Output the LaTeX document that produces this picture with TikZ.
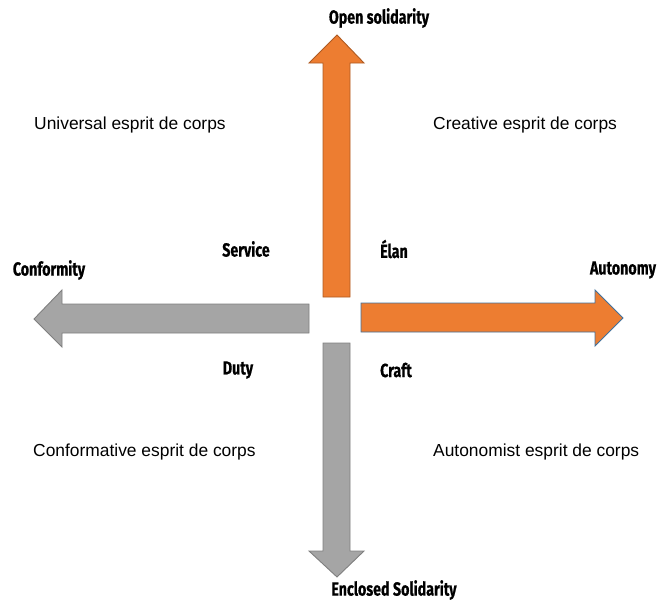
\documentclass[tikz,border=0pt]{standalone}
\usepackage{fontspec}
\setmainfont{Liberation Sans}
\newfontfamily\labelfont{Fira Sans}[FakeStretch=0.75,FakeBold=0.6]
\definecolor{orangefill}{HTML}{ED7D31}
\definecolor{orangeline}{HTML}{AE5A21}
\definecolor{blueline}{HTML}{41719C}
\definecolor{grayfill}{HTML}{A5A5A5}
\definecolor{grayline}{HTML}{7F7F7F}
\tikzset{
  orangearrow/.style={fill=orangefill, draw=orangeline, line width=0.9pt, line join=miter},
  orangearrowb/.style={fill=orangefill, draw=blueline, line width=0.9pt, line join=miter},
  grayarrow/.style={fill=grayfill, draw=grayline, line width=0.9pt, line join=miter},
  axislabel/.style={font=\labelfont\bfseries\fontsize{19}{22}\selectfont, inner sep=0pt},
  quadlabel/.style={font=\fontsize{17.4}{20}\selectfont, inner sep=0pt, anchor=west}
}
\begin{document}
\begin{tikzpicture}[x=1pt,y=-1pt]
\useasboundingbox (0,0) rectangle (659,600);
% up arrow (orange)
\draw[orangearrow] (323,297) -- (323,63) -- (309,63) -- (337,35) -- (364,63) -- (350,63) -- (350,297) -- cycle;
% right arrow (orange, blue outline)
\draw[orangearrowb] (361,303) -- (595,303) -- (595,290) -- (623,318) -- (595,346) -- (595,332) -- (361,332) -- cycle;
% left arrow (gray)
\draw[grayarrow] (309,304) -- (62,304) -- (62,290) -- (34,319) -- (62,347) -- (62,333) -- (309,333) -- cycle;
% down arrow (gray)
\draw[grayarrow] (323,343) -- (323,551) -- (309,551) -- (337,577) -- (364,551) -- (350,551) -- (350,343) -- cycle;
% axis labels
\node[axislabel] (open) at (379,18) {Open solidarity};
\node[axislabel] (enclosed) at (394,590) {Enclosed Solidarity};
\node[axislabel] (conformity) at (49,270) {Conformity};
\node[axislabel] (autonomy) at (623,270) {Autonomy};
\node[axislabel] (service) at (246,249) {Service};
\node[axislabel] (elan) at (394,249) {Élan};
\node[axislabel] (duty) at (238,370) {Duty};
\node[axislabel] (craft) at (396,370) {Craft};
% quadrant labels
\node[quadlabel] (universal) at (34,125) {Universal esprit de corps};
\node[quadlabel] (creative) at (433,125) {Creative esprit de corps};
\node[quadlabel] (conformative) at (33,452) {Conformative esprit de corps};
\node[quadlabel] (autonomist) at (433,452) {Autonomist esprit de corps};
\end{tikzpicture}
\end{document}
